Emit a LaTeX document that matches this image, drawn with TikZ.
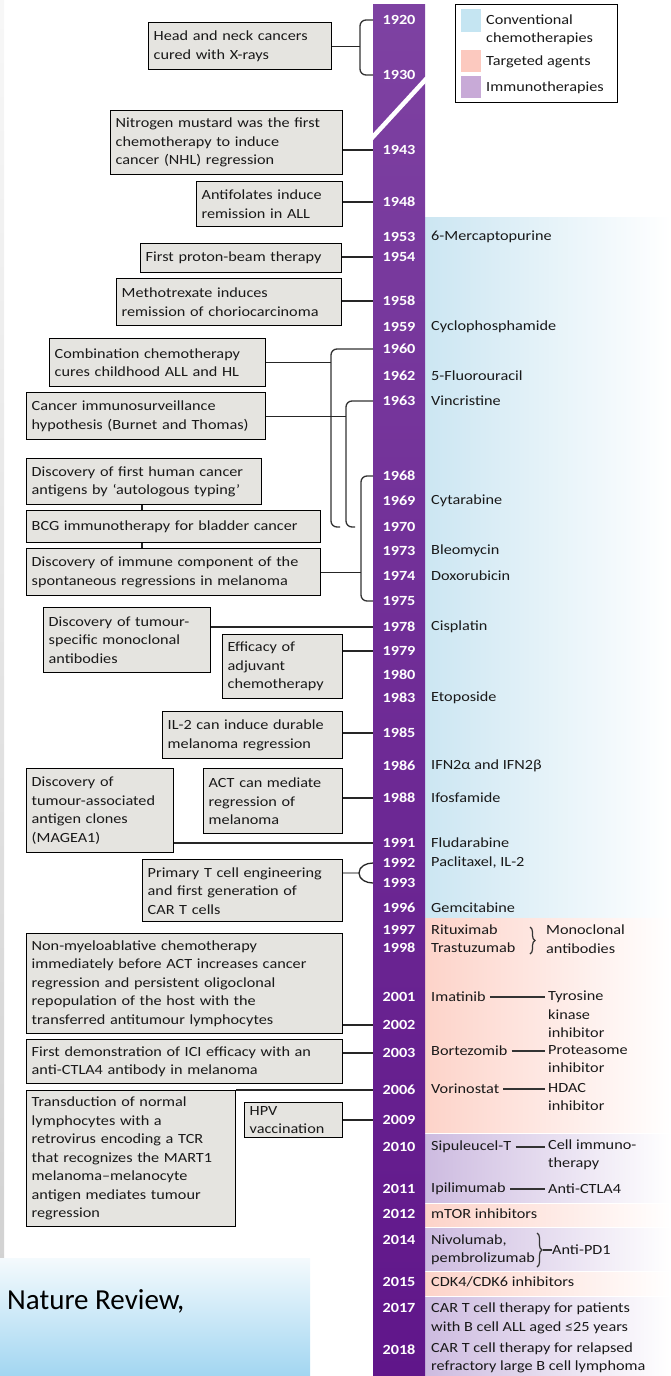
\documentclass[tikz,border=0pt]{standalone}
\usepackage{fontspec}
\setmainfont[FakeStretch=1.16]{Carlito}
\newfontfamily\nrfont{Carlito}
\usetikzlibrary{calc,decorations.pathreplacing}
\definecolor{boxgray}{RGB}{229,228,224}
\definecolor{bartop}{RGB}{126,66,162}
\definecolor{barbot}{RGB}{96,22,138}
\definecolor{bandblue}{RGB}{204,230,242}
\definecolor{bandpink}{RGB}{253,211,201}
\definecolor{bandpurp}{RGB}{205,187,224}
\definecolor{swblue}{RGB}{197,229,242}
\definecolor{swpink}{RGB}{252,201,191}
\definecolor{swpurp}{RGB}{200,170,215}
\definecolor{nrtop}{RGB}{244,250,253}
\definecolor{nrbot}{RGB}{162,214,241}
\newcommand\fs{\fontsize{14}{18.5}\selectfont}
\begin{document}
\begin{tikzpicture}[x=1pt,y=-1pt,
  ebox/.style={draw=black, line width=1.4pt, fill=boxgray, anchor=north west, align=left, inner xsep=5pt, inner ysep=0pt, font=\fs, text=black!90},
  yr/.style={text=white, font=\fs\bfseries, inner sep=0pt},
  rt/.style={anchor=west, inner sep=0pt, align=left, font=\fs, text=black!90},
  conn/.style={line width=1.3pt, draw=black!85},
  brk/.style={line width=1.3pt, draw=black!80, rounded corners=6pt},
  tick/.style={line width=1.2pt, draw=black!80}
]
\useasboundingbox (0,0) rectangle (671,1376);
% background elements
\shade[top color=gray!6, bottom color=gray!35] (0,0) rectangle (4,1258);
\shade[top color=nrtop, bottom color=nrbot] (0,1258) rectangle (310,1376);
\node[anchor=west, inner sep=0pt, font=\nrfont\fontsize{29}{32}\selectfont] (nr) at (7,1301) {Nature Review,};
% colour bands
\shade[left color=bandblue, right color=white] (425,217) rectangle (671,917);
\shade[left color=bandpink, right color=white] (425,918) rectangle (671,1132);
\shade[left color=bandpurp, right color=white] (425,1134) rectangle (671,1202);
\shade[left color=bandpink, right color=white] (425,1204) rectangle (671,1226);
\shade[left color=bandpurp, right color=white] (425,1228) rectangle (671,1270);
\shade[left color=bandpink, right color=white] (425,1272) rectangle (671,1295);
\shade[left color=bandpurp, right color=white] (425,1297) rectangle (671,1376);
% bar
\node[anchor=north west, minimum width=52pt, minimum height=1372pt, inner sep=0pt, top color=bartop, bottom color=barbot] (bar) at (373,4) {};
\draw[white, line width=4.5pt] (427,78) -- (370,140);
% years
\foreach \yy/\py in {1920/20,1930/75,1943/150,1948/202,1953/237,1954/257,1958/301,1959/327,1960/349,1962/376,1963/401,1968/476,1969/501,1970/527,1973/551,1974/576,1975/601,1978/627,1979/651,1980/675,1983/698,1985/733,1986/766,1988/798,1991/843,1992/863,1993/883,1996/908,1997/930,1998/948,2001/997,2002/1025,2003/1053,2006/1090,2009/1120,2010/1147,2011/1189,2012/1214,2014/1240,2015/1282,2017/1308,2018/1350}
  \node[yr] (y\yy) at (399,\py) {\yy};
% legend
\node[draw=black, line width=1.4pt, fill=white, minimum width=162pt, minimum height=98pt, anchor=north west, inner sep=0pt] (leg) at (455,4) {};
\node[fill=swblue, minimum width=20pt, minimum height=23pt, inner sep=0pt, anchor=north west] (sw1) at (461,9) {};
\node[fill=swpink, minimum width=20pt, minimum height=22pt, inner sep=0pt, anchor=north west] (sw2) at (461,50) {};
\node[fill=swpurp, minimum width=20pt, minimum height=22pt, inner sep=0pt, anchor=north west] (sw3) at (461,76) {};
\node[rt] (l1) at (486,30) {Conventional\\chemotherapies};
\node[rt] (l2) at (486,62) {Targeted agents};
\node[rt] (l3) at (486,88) {Immunotherapies};
% left boxes
\node[ebox, text width=173pt, minimum height=47pt] (b1) at (148,22) {Head and neck cancers\\cured with X-rays};
\node[ebox, text width=222pt, minimum height=64pt] (b2) at (110,110) {Nitrogen mustard was the first\\chemotherapy to induce\\cancer (NHL) regression};
\node[ebox, text width=136pt, minimum height=45pt] (b3) at (196,181) {Antifolates induce\\remission in ALL};
\node[ebox, text width=191pt, minimum height=29pt] (b4) at (140,243) {First proton-beam therapy};
\node[ebox, text width=215pt, minimum height=47pt] (b5) at (116,278) {Methotrexate induces\\remission of choriocarcinoma};
\node[ebox, text width=206pt, minimum height=48pt] (b6) at (49,338) {Combination chemotherapy\\cures childhood ALL and HL};
\node[ebox, text width=229pt, minimum height=47pt] (b7) at (26,392) {Cancer immunosurveillance\\hypothesis (Burnet and Thomas)};
\node[ebox, text width=225pt, minimum height=46pt] (b8) at (26,458) {Discovery of first human cancer\\antigens by `autologous typing'};
\node[ebox, text width=284pt, minimum height=32pt] (b9) at (26,510) {BCG immunotherapy for bladder cancer};
\node[ebox, text width=284pt, minimum height=47pt] (b10) at (26,548) {Discovery of immune component of the\\spontaneous regressions in melanoma};
\node[ebox, text width=157pt, minimum height=65pt] (b11) at (43,607) {Discovery of tumour-\\specific monoclonal\\antibodies};
\node[ebox, text width=110pt, minimum height=64pt] (b12) at (222,634) {Efficacy of\\adjuvant\\chemotherapy};
\node[ebox, text width=170pt, minimum height=47pt] (b13) at (162,711) {IL-2 can induce durable\\melanoma regression};
\node[ebox, text width=137pt, minimum height=84pt] (b14) at (26,768) {Discovery of\\tumour-associated\\antigen clones\\(MAGEA1)};
\node[ebox, text width=129pt, minimum height=65pt] (b15) at (203,768) {ACT can mediate\\regression of\\melanoma};
\node[ebox, text width=190pt, minimum height=62pt] (b16) at (142,859) {Primary T cell engineering\\and first generation of\\CAR T cells};
\node[ebox, text width=306pt, minimum height=100pt] (b17) at (26,933) {Non-myeloablative chemotherapy\\immediately before ACT increases cancer\\regression and persistent oligoclonal\\repopulation of the host with the\\transferred antitumour lymphocytes};
\node[ebox, text width=306pt, minimum height=44pt] (b18) at (26,1039) {First demonstration of ICI efficacy with an\\anti-CTLA4 antibody in melanoma};
\node[ebox, text width=199pt, minimum height=136pt] (b19) at (26,1090) {Transduction of normal\\lymphocytes with a\\retrovirus encoding a TCR\\that recognizes the MART1\\melanoma--melanocyte\\antigen mediates tumour\\regression};
\node[ebox, text width=88pt, minimum height=35pt] (b20) at (244,1102) {HPV\\vaccination};
% bracket x positions
\coordinate (kx0) at (360,0);
\coordinate (kx1) at (331,0);
\coordinate (kx2) at (346,0);
\coordinate (kx3) at (361,0);
\coordinate (kx4) at (359,0);
\coordinate (kxv) at (142,0);
% connectors
\draw[brk] (bar.west |- y1920) -| (kx0 |- b1.east) |- (bar.west |- y1930);
\draw[conn] (b1.east) -- (b1.east -| kx0);
\foreach \b/\y in {b2/1943,b3/1948,b4/1954,b5/1958,b11/1978,b12/1979,b13/1985,b15/1988,b14/1991,b17/2002,b18/2003,b20/2009}
  \draw[conn] (\b.east |- y\y) -- (bar.west |- y\y);
\draw[conn] (b19.north east) -- (bar.west |- y2006);
\draw[brk] (bar.west |- y1960) -| (kx1 |- y1962) |- ([xshift=9pt]kx1 |- y1970);
\draw[brk] (bar.west |- y1963) -| (kx2 |- y1968) |- ([xshift=9pt]kx2 |- y1970);
\draw[brk] (bar.west |- y1968) -| (kx3 |- y1973) |- (bar.west |- y1975);
\draw[conn] (b6.east) -- (b6.east -| kx1);
\draw[conn] (b7.east) -- (b7.east -| kx2);
\draw[conn] (b10.east) -- (b10.east -| kx3);
\draw[conn] (b8.south -| kxv) -- (b9.north -| kxv);
\draw[conn] (b9.south -| kxv) -- (b10.north -| kxv);
\coordinate (m9293) at ($(y1992)!0.5!(y1993)$);
\draw[line width=2.4pt, draw=gray!75] (b16.east |- m9293) -- (kx4 |- m9293);
\draw[conn] (bar.west |- y1992) to[out=180,in=90] (kx4 |- m9293) to[out=270,in=180] (bar.west |- y1993);
% right texts
\node[rt] (merc) at (431,237) {6-Mercaptopurine};
\node[rt] (cycl) at (431,327) {Cyclophosphamide};
\node[rt] (fluo) at (431,376) {5-Fluorouracil};
\node[rt] (vinc) at (431,401) {Vincristine};
\node[rt] (cyta) at (431,501) {Cytarabine};
\node[rt] (bleo) at (431,551) {Bleomycin};
\node[rt] (doxo) at (431,576) {Doxorubicin};
\node[rt] (cisp) at (431,627) {Cisplatin};
\node[rt] (etop) at (431,698) {Etoposide};
\node[rt] (ifn) at (431,766) {IFN2α and IFN2β};
\node[rt] (ifos) at (431,798) {Ifosfamide};
\node[rt] (fluda) at (431,843) {Fludarabine};
\node[rt] (pacl) at (431,863) {Paclitaxel, IL-2};
\node[rt] (gemc) at (431,908) {Gemcitabine};
\node[rt] (ritu) at (431,930) {Rituximab};
\node[rt] (tras) at (431,948) {Trastuzumab};
\node[rt] (mono) at (546,939) {Monoclonal\\antibodies};
\node[rt] (imat) at (431,997) {Imatinib};
\node[rt] (tyro) at (548,1014.5) {Tyrosine\\kinase\\inhibitor};
\node[rt] (bort) at (431,1051) {Bortezomib};
\node[rt] (prot) at (548,1059) {Proteasome\\inhibitor};
\node[rt] (vori) at (431,1089) {Vorinostat};
\node[rt] (hdac) at (548,1097) {HDAC\\inhibitor};
\node[rt] (sipu) at (431,1147) {Sipuleucel-T};
\node[rt] (cell) at (548,1155) {Cell immuno-\\therapy};
\node[rt] (ipil) at (431,1189) {Ipilimumab};
\node[rt] (ctla) at (548,1189) {Anti-CTLA4};
\node[rt] (mtor) at (431,1214) {mTOR inhibitors};
\node[rt] (nivo) at (431,1250) {Nivolumab,\\pembrolizumab};
\node[rt] (pd1) at (552,1250) {Anti-PD1};
\node[rt] (cdk) at (431,1282) {CDK4/CDK6 inhibitors};
\node[rt] (car1) at (431,1318.5) {CAR T cell therapy for patients\\with B cell ALL aged ≤25 years};
\node[rt] (car2) at (431,1358) {CAR T cell therapy for relapsed\\refractory large B cell lymphoma};
% right ticks and braces
\draw[tick] ([xshift=4pt]imat.east) -- ([xshift=-3pt]imat.east -| tyro.west);
\draw[tick] ([xshift=4pt]bort.east) -- ([xshift=-3pt]bort.east -| prot.west);
\draw[tick] ([xshift=4pt]vori.east) -- ([xshift=-3pt]vori.east -| hdac.west);
\draw[tick] ([xshift=4pt]sipu.east) -- ([xshift=-3pt]sipu.east -| cell.west);
\draw[tick] ([xshift=4pt]ipil.east) -- ([xshift=-3pt]ipil.east -| ctla.west);
\draw[tick, decorate, decoration={brace, amplitude=5pt}] (530,927) -- (530,954);
\draw[tick, decorate, decoration={brace, amplitude=5pt}] (537,1233) -- (537,1267);
\coordinate (pdtip) at (543,1250);
\draw[tick] (pdtip) -- (pd1.west);
\end{tikzpicture}
\end{document}
